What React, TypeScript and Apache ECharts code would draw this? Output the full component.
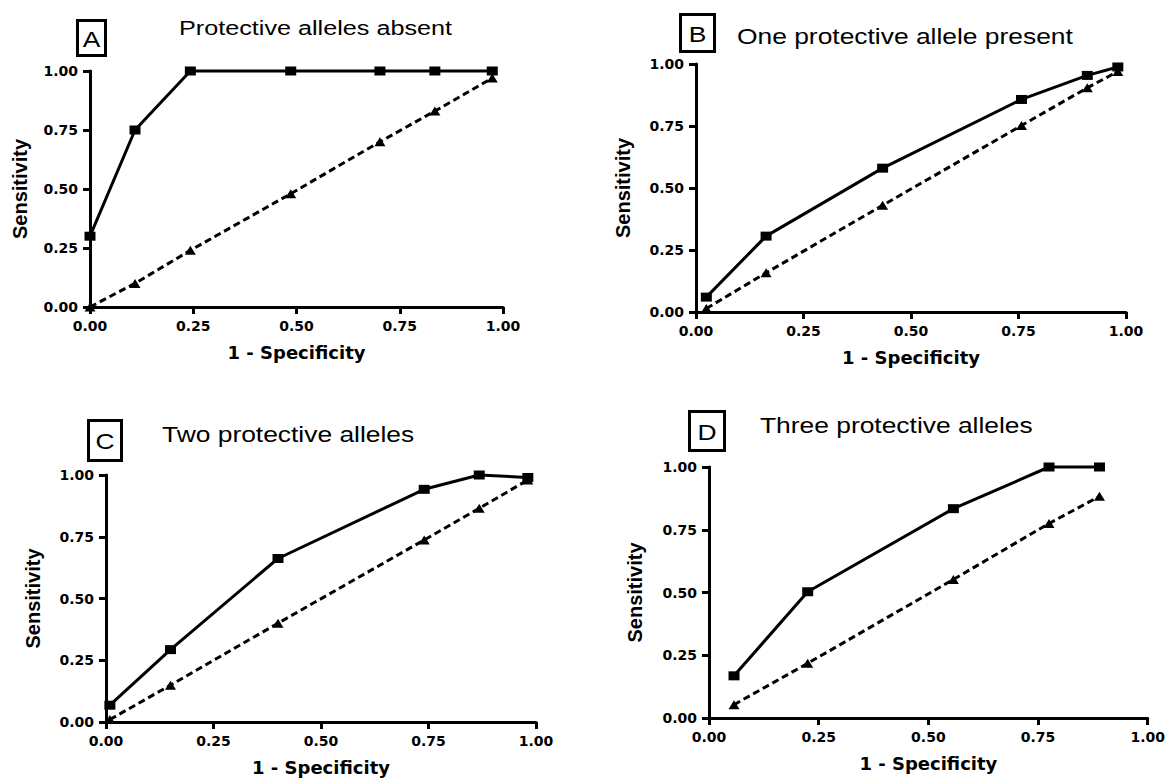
import React, { useEffect, useRef } from "react";
import * as echarts from "echarts";

// Panel A — protective alleles absent
const aX = [0, 0.109, 0.243, 0.486, 0.702, 0.835, 0.974];
const aSolid = [0.30, 0.75, 1.0, 1.0, 1.0, 1.0, 1.0];
const aDashed = [0, 0.10, 0.24, 0.48, 0.70, 0.83, 0.97];

// Panel B — one protective allele present
const bX = [0.024, 0.163, 0.434, 0.757, 0.91, 0.981];
const bSolid = [0.06, 0.306, 0.58, 0.857, 0.954, 0.988];
const bDashed = [0.014, 0.158, 0.43, 0.752, 0.904, 0.97];

// Panel C — two protective alleles
const cX = [0.009, 0.15, 0.40, 0.74, 0.868, 0.981];
const cSolid = [0.068, 0.293, 0.662, 0.942, 1.0, 0.99];
const cDashed = [0.01, 0.149, 0.40, 0.737, 0.865, 0.98];

// Panel D — three protective alleles
const dX = [0.057, 0.225, 0.557, 0.775, 0.89];
const dSolid = [0.168, 0.503, 0.834, 1.0, 1.0];
const dDashed = [0.053, 0.218, 0.552, 0.775, 0.883];

const panelLetters = ["A", "B", "C", "D"];
const panelTitles = [
  "Protective alleles absent",
  "One protective allele present",
  "Two protective alleles",
  "Three protective alleles",
];
const xName = "1 - Specificity";
const yName = "Sensitivity";

const SANS = "'Liberation Sans', Arial, Helvetica, sans-serif";
const WIDE = "'DejaVu Sans', 'Liberation Sans', Arial, sans-serif";

const grids = [
  { left: 90, top: 71, width: 413, height: 236 },
  { left: 696, top: 64, width: 430, height: 248 },
  { left: 106, top: 475, width: 430, height: 247 },
  { left: 709, top: 467, width: 439, height: 251 },
];
const yNameGaps = [60, 63, 63, 64];

// outer box edges and title anchor
const boxes = [
  { x0: 76, y0: 19, x1: 107, y1: 57, tx: 179, ty: 27.5, fs: 21 },
  { x0: 679, y0: 13, x1: 716, y1: 53, tx: 737, ty: 36.5, fs: 22 },
  { x0: 87, y0: 419, x1: 123, y1: 462, tx: 162, ty: 434, fs: 22 },
  { x0: 688, y0: 410, x1: 726, y1: 452, tx: 760, ty: 425, fs: 22 },
];

const pair = (xs: number[], ys: number[]) => xs.map((x, i) => [x, ys[i]]);

export default function App() {
  const ref = useRef<HTMLDivElement>(null);
  useEffect(() => {
    if (!ref.current) return;
    const chart = echarts.init(ref.current, null, { renderer: "svg" });
    const data = [
      [aX, aSolid, aDashed],
      [bX, bSolid, bDashed],
      [cX, cSolid, cDashed],
      [dX, dSolid, dDashed],
    ];
    const labelCommon = {
      color: "#000",
      fontWeight: "bold",
      fontSize: 14,
      fontFamily: WIDE,
      formatter: (v: number) => v.toFixed(2),
    };
    const axisCommon = {
      min: 0,
      max: 1,
      interval: 0.25,
      splitLine: { show: false },
      axisLine: { lineStyle: { color: "#000", width: 3 } },
      axisTick: { show: true, length: 7, lineStyle: { color: "#000", width: 3 } },
      nameLocation: "middle",
    };
    const xAxis = grids.map((_, i) => ({
      ...axisCommon,
      type: "value",
      gridIndex: i,
      name: xName,
      nameGap: 36,
      nameTextStyle: { color: "#000", fontWeight: "bold", fontSize: 18, fontFamily: WIDE },
      axisLabel: { ...labelCommon, margin: 12 },
    }));
    const yAxis = grids.map((_, i) => ({
      ...axisCommon,
      type: "value",
      gridIndex: i,
      name: yName,
      nameGap: yNameGaps[i],
      nameTextStyle: { color: "#000", fontWeight: "bold", fontSize: 20, fontFamily: SANS },
      axisLabel: { ...labelCommon, margin: 12 },
    }));
    const series: any[] = [];
    data.forEach(([xs, solid, dashed], i) => {
      series.push({
        type: "line",
        xAxisIndex: i,
        yAxisIndex: i,
        data: pair(xs, dashed),
        symbol: "triangle",
        symbolSize: [11, 9],
        clip: false,
        itemStyle: { color: "#000" },
        lineStyle: { color: "#000", width: 3, type: [7, 4] },
      });
      series.push({
        type: "line",
        xAxisIndex: i,
        yAxisIndex: i,
        data: pair(xs, solid),
        symbol: "rect",
        symbolSize: [11, 9],
        clip: false,
        itemStyle: { color: "#000" },
        lineStyle: { color: "#000", width: 3 },
      });
    });
    const graphic: any[] = [];
    boxes.forEach((b, i) => {
      graphic.push({
        type: "rect",
        shape: { x: b.x0 + 1.5, y: b.y0 + 1.5, width: b.x1 - b.x0 - 3, height: b.y1 - b.y0 - 3 },
        style: { fill: "#fff", stroke: "#000", lineWidth: 3 },
      });
      graphic.push({
        type: "text",
        x: (b.x0 + b.x1) / 2,
        y: (b.y0 + b.y1) / 2 + 1,
        scaleX: 1.2,
        style: {
          text: panelLetters[i],
          fontSize: 22,
          fontFamily: SANS,
          fill: "#000",
          align: "center",
          verticalAlign: "middle",
        },
      });
      graphic.push({
        type: "text",
        x: b.tx,
        y: b.ty,
        scaleX: 1.2,
        style: {
          text: panelTitles[i],
          fontSize: b.fs,
          fontFamily: SANS,
          fill: "#000",
          align: "left",
          verticalAlign: "middle",
        },
      });
    });
    chart.setOption({
      animation: false,
      backgroundColor: "#fff",
      grid: grids.map((g) => ({ ...g, containLabel: false })),
      xAxis,
      yAxis,
      series,
      graphic,
    });
    return () => chart.dispose();
  }, []);
  return (
    <div
      ref={ref}
      style={{ position: "absolute", left: 0, top: 0, width: 1168, height: 780, background: "#fff" }}
    />
  );
}
